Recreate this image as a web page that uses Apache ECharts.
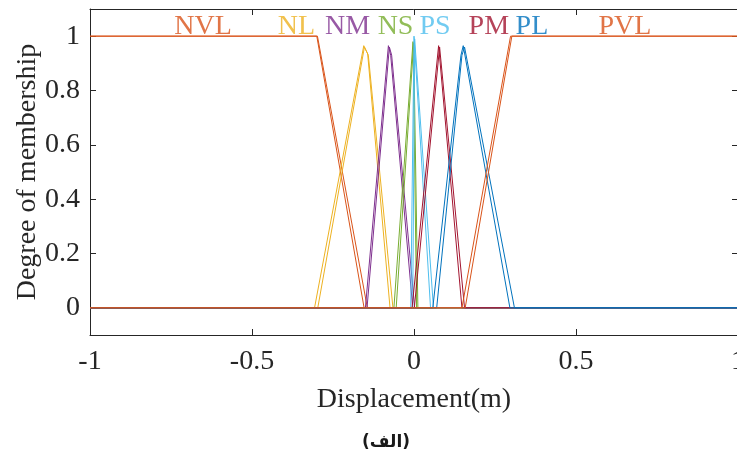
<!DOCTYPE html>
<html>
<head>
<meta charset="utf-8">
<script src="https://cdn.jsdelivr.net/npm/echarts@6/dist/echarts.min.js"></script>
<style>
  html, body { margin: 0; padding: 0; background: #fff; }
  #chart { width: 737px; height: 457px; }
</style>
</head>
<body>
<div id="chart"></div>
<script>
// Fuzzy membership functions of the displacement input.
// Every set is drawn as two close traces (a and b), each a list of [x, μ] breakpoints.
const setNames = ['NVL', 'NL', 'NM', 'NS', 'PS', 'PM', 'PL', 'PVL'];
const setColors = ['#D95319', '#EDB120', '#7E2F8E', '#77AC30', '#4DBEEE', '#A2142F', '#0072BD', '#D95319'];

const nvlA = [[-1, 1], [-0.300, 1], [-0.154, 0], [1, 0]];
const nvlB = [[-1, 1], [-0.298, 1], [-0.144, 0], [1, 0]];

const nlA = [[-1, 0], [-0.307, 0], [-0.155, 0.965], [-0.143, 0.935], [-0.074, 0], [1, 0]];
const nlB = [[-1, 0], [-0.297, 0], [-0.153, 0.960], [-0.141, 0.930], [-0.065, 0], [1, 0]];

const nmA = [[-1, 0], [-0.150, 0], [-0.079, 0.965], [-0.072, 0.930], [-0.004, 0], [1, 0]];
const nmB = [[-1, 0], [-0.145, 0], [-0.076, 0.960], [-0.069, 0.930], [0.002, 0], [1, 0]];

const nsA = [[-1, 0], [-0.062, 0], [-0.003, 0.980], [0.008, 0], [1, 0]];
const nsB = [[-1, 0], [-0.055, 0], [-0.001, 0.975], [0.012, 0], [1, 0]];

const psA = [[-1, 0], [-0.010, 0], [0.000, 1.000], [0.051, 0], [1, 0]];
const psB = [[-1, 0], [-0.004, 0], [0.002, 0.990], [0.060, 0], [1, 0]];

const pmA = [[-1, 0], [-0.006, 0], [0.076, 0.965], [0.148, 0], [1, 0]];
const pmB = [[-1, 0], [0.001, 0], [0.079, 0.960], [0.156, 0], [1, 0]];

const plA = [[-1, 0], [0.058, 0], [0.145, 0.930], [0.152, 0.965], [0.296, 0], [1, 0]];
const plB = [[-1, 0], [0.070, 0], [0.148, 0.930], [0.156, 0.960], [0.310, 0], [1, 0]];

const pvlA = [[-1, 0], [0.148, 0], [0.298, 1], [1, 1]];
const pvlB = [[-1, 0], [0.158, 0], [0.302, 1], [1, 1]];

const traces = [
  [nvlA, nvlB], [nlA, nlB], [nmA, nmB], [nsA, nsB],
  [psA, psB], [pmA, pmB], [plA, plB], [pvlA, pvlB]
];

// Where each set's name is written (x in metres, y in membership units)
const labelX = [-0.651, -0.363, -0.205, -0.057, 0.065, 0.231, 0.364, 0.651];
const labelY = 1.036;

// Axis ticks
const xTicks = [-1, -0.5, 0, 0.5, 1];
const yTicks = [0, 0.2, 0.4, 0.6, 0.8, 1];

const serif = '"Liberation Serif", "Times New Roman", serif';
const ink = '#262626';

const series = [];
traces.forEach((pair, i) => {
  pair.forEach((pts, k) => {
    series.push({
      name: setNames[i] + (k === 0 ? ' a' : ' b'),
      type: 'line',
      data: pts,
      showSymbol: false,
      symbol: 'none',
      silent: true,
      z: 2,
      lineStyle: { color: setColors[i], width: 1 },
      emphasis: { disabled: true }
    });
  });
});

// Set names written inside the plot area
series.push({
  type: 'scatter',
  symbolSize: 0,
  silent: true,
  z: 5,
  data: setNames.map((n, i) => ({
    value: [labelX[i], labelY],
    label: {
      show: true,
      position: 'inside',
      formatter: n,
      color: setColors[i],
      fontFamily: serif,
      fontSize: 28
    }
  }))
});

const axisCommonX = {
  type: 'value',
  min: -1,
  max: 1,
  interval: 0.5,
  splitLine: { show: false },
  axisLine: { show: true, onZero: false, lineStyle: { color: ink, width: 1 } },
  axisTick: { show: true, inside: true, length: 6, lineStyle: { color: ink } }
};
const axisCommonY = {
  type: 'value',
  min: -0.1,
  max: 1.1,
  splitLine: { show: false },
  axisLine: { show: true, onZero: false, lineStyle: { color: ink, width: 1 } },
  axisTick: { show: true, inside: true, length: 6, customValues: yTicks, lineStyle: { color: ink } }
};

const option = {
  animation: false,
  backgroundColor: '#ffffff',
  grid: { left: 90, top: 9, width: 648, height: 326, containLabel: false, outerBoundsMode: 'none' },
  xAxis: [
    Object.assign({}, axisCommonX, {
      position: 'bottom',
      name: 'Displacement(m)',
      nameLocation: 'middle',
      nameGap: 51,
      nameMoveOverlap: false,
      nameTextStyle: { fontFamily: serif, fontSize: 28, color: ink },
      axisLabel: {
        margin: 13,
        fontFamily: serif,
        fontSize: 28,
        color: ink,
        showMinLabel: true,
        showMaxLabel: true,
        formatter: v => (xTicks.indexOf(v) >= 0 ? String(v) : '')
      }
    }),
    Object.assign({}, axisCommonX, {
      position: 'top',
      axisLabel: { show: false }
    })
  ],
  yAxis: [
    Object.assign({}, axisCommonY, {
      position: 'left',
      name: 'Degree of membership',
      nameLocation: 'middle',
      nameRotate: 90,
      nameGap: 48,
      nameMoveOverlap: false,
      nameTextStyle: { fontFamily: serif, fontSize: 28, color: ink },
      axisLabel: {
        margin: 10,
        fontFamily: serif,
        fontSize: 28,
        color: ink,
        customValues: yTicks,
        formatter: v => String(Math.round(v * 10) / 10)
      }
    }),
    Object.assign({}, axisCommonY, {
      position: 'right',
      axisLabel: { show: false }
    })
  ],
  graphic: [{
    type: 'text',
    left: 362,
    top: 434,
    style: {
      text: '(الف)',
      fontFamily: '"DejaVu Sans", sans-serif',
      fontWeight: 'bold',
      fontSize: 17,
      fill: '#1a1a1a'
    }
  }],
  series: series
};

const chart = echarts.init(document.getElementById('chart'), null, { renderer: 'canvas' });
chart.setOption(option);
</script>
</body>
</html>
